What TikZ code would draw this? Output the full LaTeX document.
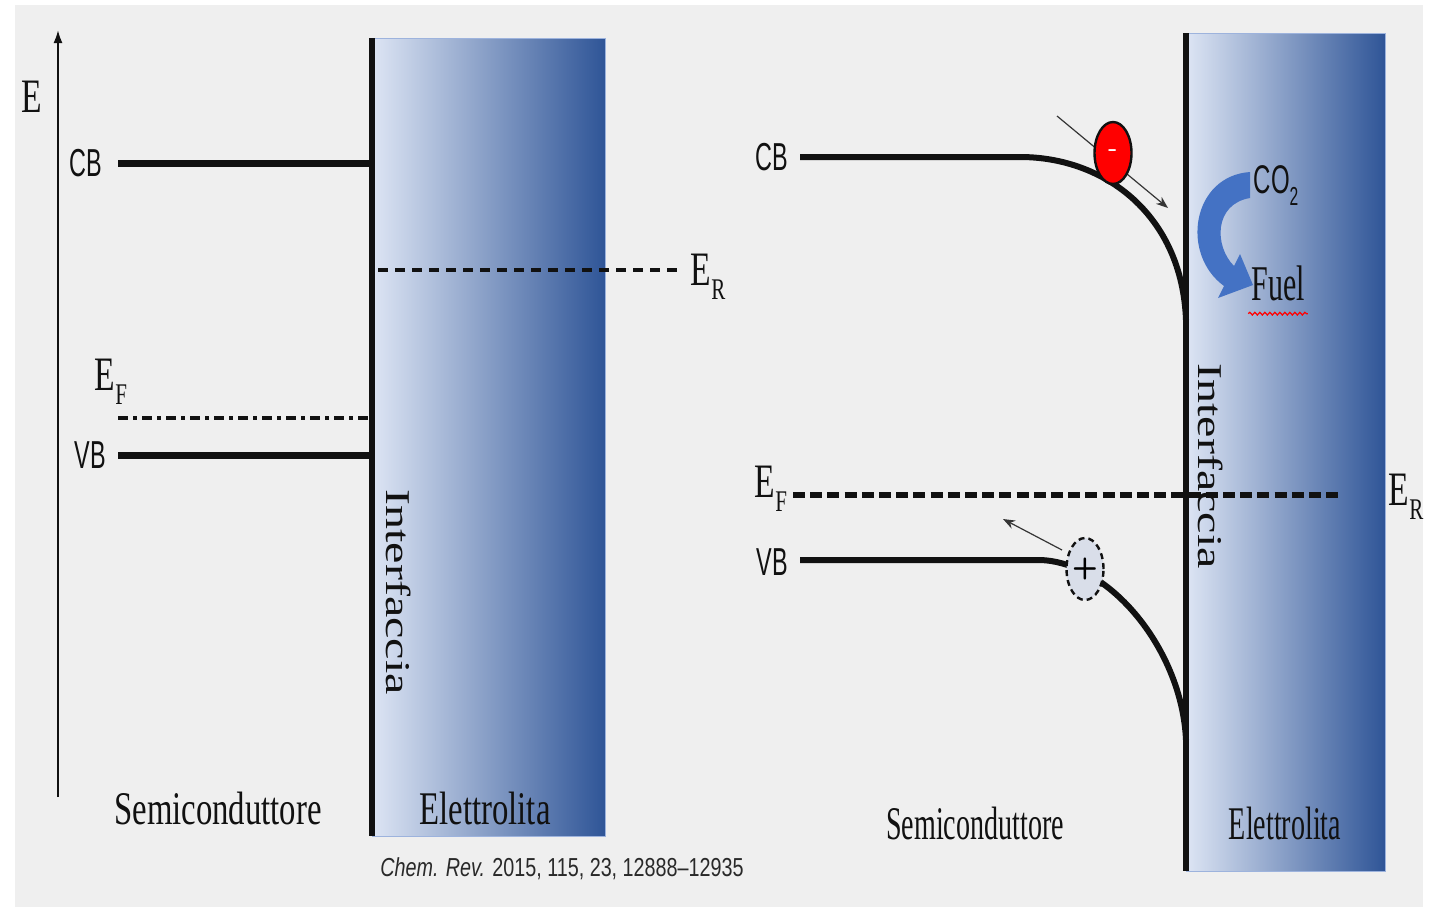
\documentclass[tikz,border=0pt]{standalone}
\usepackage{fontspec}
\setmainfont{Liberation Serif}
\newfontfamily\narrowserif[FakeStretch=0.7]{Liberation Serif}
\newfontfamily\tightserif[FakeStretch=0.6]{Liberation Serif}
\newfontfamily\widerserif[FakeStretch=1.38]{Liberation Serif}
\newfontfamily\narrowsans[FakeStretch=0.6]{Liberation Sans}
\newfontfamily\citefont[FakeStretch=0.76]{Liberation Sans}
\usepackage{tikz}
\usetikzlibrary{arrows.meta,positioning,shapes.geometric,decorations.pathmorphing}
\definecolor{sheet}    {HTML}{EFEFEF}
\definecolor{elyte}    {HTML}{DDE5F4}
\definecolor{elytedark}{HTML}{2F5597}
\definecolor{edgeblue} {HTML}{9DB3DD}
\definecolor{swoosh}   {HTML}{4472C4}
\definecolor{holefill} {HTML}{D9DEE9}
\definecolor{ink}      {HTML}{111111}
\newcommand{\sub}[2]{#1\raisebox{-0.3em}{\fontsize{15}{15}\selectfont #2}}
\tikzset{
  band/.style={line width=3.5pt,ink},
  bentband/.style={line width=3pt,ink},
  iface/.style={line width=3pt,ink},
  elytebox/.style={left color=elyte,right color=elytedark,draw=edgeblue,line width=0.5pt},
  bandlbl/.style={font=\narrowsans\fontsize{19.5}{19.5}\selectfont,ink},
  energylbl/.style={font=\narrowserif\fontsize{24}{24}\selectfont,ink},
  sidelbl/.style={font=\narrowserif\fontsize{23.4}{23.4}\selectfont,ink},
  sidelblr/.style={font=\tightserif\fontsize{23.4}{23.4}\selectfont,ink},
  ifacelbl/.style={font=\widerserif\fontsize{17.4}{17.4}\selectfont,ink,rotate=-90},
  carrier/.style={ellipse,minimum width=18.5pt,minimum height=31pt,inner sep=0pt},
  thinarrow/.style={line width=0.6pt,ink!85,-{Stealth[length=6pt,width=4.5pt]}}
}

\begin{document}
\begin{tikzpicture}[x=0.5pt,y=-0.5pt]
  \useasboundingbox (0,0) rectangle (1429,911);
  \fill[sheet] (15,5) rectangle (1423,907);

  % left: flat bands
  \draw[line width=1pt,ink,-{Latex[length=6.5pt,width=4.5pt]}] (58,797) coordinate (axisBot) -- (58,30) coordinate (axisTop);
  \node[energylbl] (eAxis) at (32,97) {E};
  \shade[elytebox] (372,38) rectangle (605,836);
  \coordinate (ifTopL) at (372,38);
  \coordinate (ifBotL) at (372,836);
  \draw[iface] (ifTopL) -- (ifBotL);

  \node[bandlbl] (cbL) at (86,163) {CB};
  \coordinate (cbLa) at (118,163);
  \draw[band] (cbLa) -- (cbLa -| ifTopL);
  \node[bandlbl] (vbL) at (90,455) {VB};
  \coordinate (vbLa) at (118,455);
  \draw[band] (vbLa) -- (vbLa -| ifTopL);

  \node[energylbl] (efL) at (111,382) {\sub{E}{F}};
  \coordinate (efLa) at (118,418);
  \draw[line width=1.6pt,ink,dash pattern=on 5pt off 2.5pt on 2pt off 2.5pt] (efLa) -- (efLa -| ifTopL);
  \coordinate (erLa) at (378,270);
  \coordinate (erLb) at (680,270);
  \draw[line width=1.6pt,ink,dash pattern=on 5pt off 3.5pt] (erLa) -- (erLb);
  \node[energylbl] (erL) at (708,277) {\sub{E}{R}};

  \node[ifacelbl] (ifTxtL) at (399,592) {Interfaccia};
  \node[sidelbl] (semiL) at (218,808) {Semiconduttore};
  \node[sidelbl] (elyL) at (485,808) {Elettrolita};
  \node[font=\citefont\fontsize{13}{13}\selectfont,ink!90] (cite) at (562,869)
    {{\itshape Chem. Rev.} 2015, 115, 23, 12888\textendash12935};

  % right: bent bands
  \shade[elytebox] (1186,33) rectangle (1385,871);
  \coordinate (ifTopR) at (1186,33);
  \coordinate (ifBotR) at (1186,871);
  \draw[iface] (ifTopR) -- (ifBotR);

  \node[bandlbl] (cbR) at (772,157) {CB};
  \coordinate (cbRa) at (800,157);
  \coordinate (cbRb) at (1020,157);
  \coordinate (cbRc) at (1186,320);
  \draw[bentband] (cbRa) -- (cbRb) .. controls (1105,157) and (1182,215) .. (cbRc);

  \node[bandlbl] (vbR) at (772,562) {VB};
  \coordinate (vbRa) at (800,560);
  \coordinate (vbRb) at (1040,560);
  \coordinate (vbRc) at (1186,740);
  \draw[bentband] (vbRa) -- (vbRb) .. controls (1110,562) and (1182,650) .. (vbRc);

  \node[energylbl] (efR) at (771,489) {\sub{E}{F}};
  \coordinate (efRa) at (793,495);
  \coordinate (efRb) at (1343,495);
  \draw[line width=2.6pt,ink,dash pattern=on 6pt off 2.6pt] (efRa) -- (efRb);
  \node[energylbl] (erR) at (1406,497) {\sub{E}{R}};

  % electron
  \coordinate (eFrom) at (1057,116);
  \coordinate (eTo) at (1168,208);
  \draw[thinarrow] (eFrom) -- (eTo);
  \node[carrier,fill=red,draw=ink,line width=1.2pt,text=white,font=\sffamily\bfseries\fontsize{13}{13}\selectfont] (elec) at (1113,153) {-};

  % hole
  \coordinate (hFrom) at (1062,550);
  \coordinate (hTo) at (1003,519);
  \draw[thinarrow] (hFrom) -- (hTo);
  \node[carrier,fill=holefill,draw=ink,line width=1.2pt,dash pattern=on 3pt off 2pt,font=\sffamily\bfseries\fontsize{15}{15}\selectfont] (hole) at (1085,569) {+};

  % CO2 -> Fuel
  \fill[swoosh] (1250,172) .. controls (1192,176) and (1180,254) .. (1224,286)
    -- (1218,298) -- (1253,285) -- (1240,254) -- (1234,266)
    .. controls (1214,246) and (1214,204) .. (1250,198) -- cycle;
  \node[font=\narrowsans\fontsize{20}{20}\selectfont,ink] (co2) at (1276,186)
    {CO\raisebox{-0.3em}{\fontsize{13}{13}\selectfont 2}};
  \node[font=\tightserif\fontsize{25}{25}\selectfont,ink] (fuel) at (1278,283) {Fuel};
  \draw[red,line width=0.6pt,decorate,decoration={snake,amplitude=0.7pt,segment length=2.5pt}]
    ([xshift=2pt,yshift=-3pt]fuel.south west) -- ([xshift=-2pt,yshift=-3pt]fuel.south east);

  \node[ifacelbl] (ifTxtR) at (1211,466) {Interfaccia};
  \node[sidelblr] (semiR) at (975,823) {Semiconduttore};
  \node[sidelblr] (elyR) at (1285,823) {Elettrolita};
\end{tikzpicture}
\end{document}
